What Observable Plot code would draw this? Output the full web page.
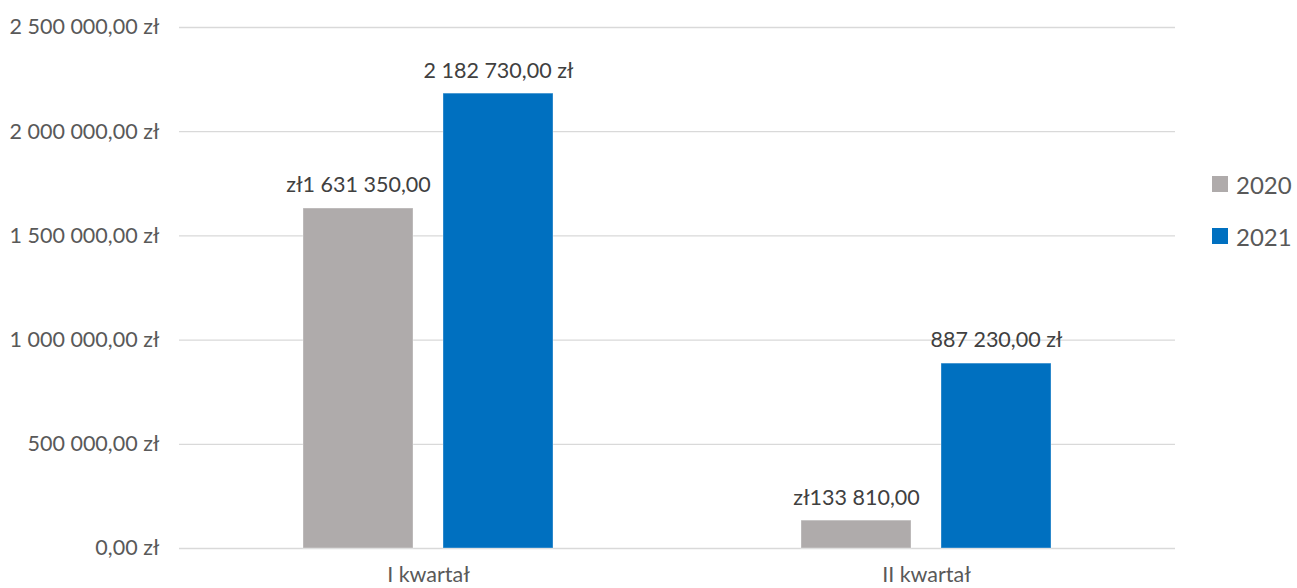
<!DOCTYPE html>
<html>
<head>
<meta charset="utf-8">
<script src="https://cdn.jsdelivr.net/npm/d3@7"></script>
<script src="https://cdn.jsdelivr.net/npm/@observablehq/plot@0.6"></script>
<style>
  body { margin: 0; background: #fff; font-family: Lato, "Open Sans", sans-serif; }
  #wrap { position: relative; width: 1297px; height: 588px; }
  #legend { position: absolute; left: 1212px; top: 170px; font-size: 24px; color: #595959; }
  .row { display: flex; align-items: center; height: 28px; margin-bottom: 24px; }
  .sw { width: 16px; height: 16px; margin-right: 8px; }
</style>
</head>
<body>
<div id="wrap"><div id="legend"></div></div>
<script>
const categories = ["I kwartał", "II kwartał"];
const years = ["2020", "2021"];
const values2020 = [1631350, 133810];
const values2021 = [2182730, 887230];
const yTicks = [0, 500000, 1000000, 1500000, 2000000, 2500000];
const colors = ["#AFABAB", "#0070C0"];

const loc = d3.formatLocale({decimal: ",", thousands: " ", grouping: [3], currency: ["", " zł"]});
const num = loc.format(",.2f");
const tickFmt = d => num(d) + " zł";
const labelFmt = {"2020": v => "zł" + num(v), "2021": v => num(v) + " zł"};

const data = [];
categories.forEach((c, i) => {
  data.push({quarter: c, year: years[0], value: values2020[i]});
  data.push({quarter: c, year: years[1], value: values2021[i]});
});

const chart = Plot.plot({
  width: 1297,
  height: 588,
  marginLeft: 178,
  marginRight: 122,
  marginTop: 27,
  marginBottom: 40,
  style: {fontFamily: "Lato, 'Open Sans', sans-serif", fontSize: "21.5px", color: "#595959", background: "#fff"},
  fx: {domain: categories, paddingInner: 0, paddingOuter: 0, label: null, axis: "bottom", tickSize: 0, tickPadding: 18},
  x: {domain: years, paddingInner: 0.213, paddingOuter: 0.874, axis: null},
  y: {domain: [0, 2500000], ticks: yTicks, tickFormat: tickFmt, tickSize: 0, tickPadding: 20, label: null},
  color: {domain: years, range: colors},
  marks: [
    Plot.gridY(yTicks, {stroke: "#d9d9d9", strokeOpacity: 1, strokeWidth: 1.3}),
    Plot.barY(data, {fx: "quarter", x: "year", y: "value", fill: "year", stroke: "#ffffff", strokeOpacity: 0.35, strokeWidth: 1}),
    Plot.text(data, {fx: "quarter", x: "year", y: "value", text: d => labelFmt[d.year](d.value), dy: -23, fill: "#404040", fontSize: 21.5, lineAnchor: "middle"})
  ]
});
document.getElementById("wrap").prepend(chart);

const legend = document.getElementById("legend");
years.forEach((y, i) => {
  const row = document.createElement("div");
  row.className = "row";
  row.innerHTML = `<div class="sw" style="background:${colors[i]}"></div><span>${y}</span>`;
  legend.appendChild(row);
});
</script>
</body>
</html>
